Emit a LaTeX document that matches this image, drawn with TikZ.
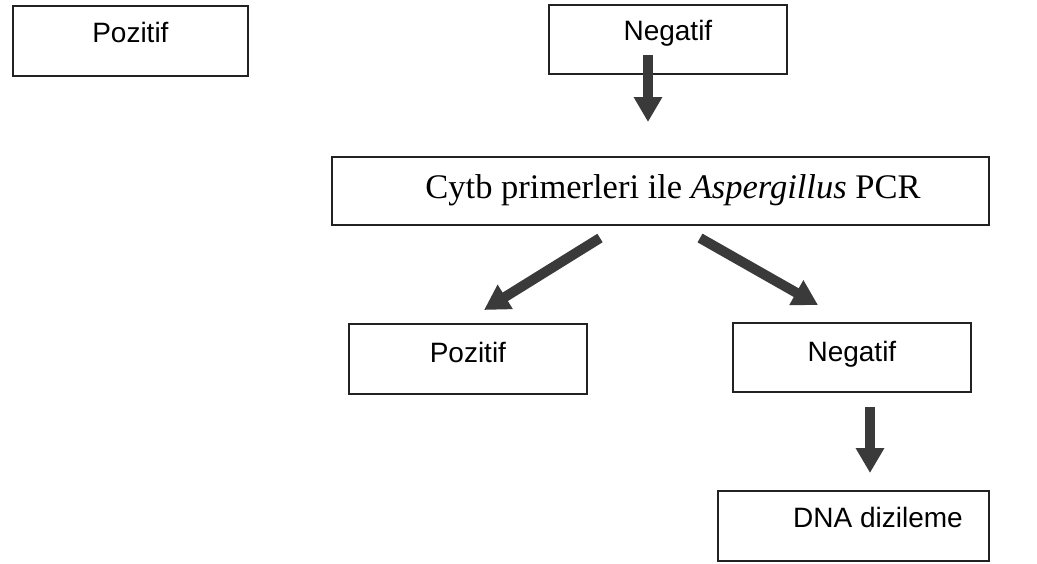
\documentclass[tikz,border=0pt]{standalone}
\usepackage{fontspec}
\setmainfont{Liberation Serif}
\newfontfamily\arialf{Liberation Sans}
\usetikzlibrary{arrows.meta}
\definecolor{boxline}{HTML}{222222}
\definecolor{arrowgray}{HTML}{3A3A3A}
\tikzset{
  box/.style={draw=boxline, line width=1.8pt, inner sep=0pt, anchor=north west, font=\arialf\fontsize{28}{34}\selectfont},
  boxtext/.style={inner sep=0pt, anchor=base, font=\arialf\fontsize{28}{34}\selectfont},
  fatarrow/.style={draw=arrowgray, line width=10pt, -{Triangle[width=27pt,length=25pt]}},
}
\begin{document}
\begin{tikzpicture}[x=1pt,y=-1pt]
\useasboundingbox (0,0) rectangle (1037,563);
\node[box, minimum width=235pt, text height=37pt, text depth=33pt] (pos1) at (12,5) {Pozitif};
\node[box, minimum width=238pt, text height=36pt, text depth=33pt] (neg1) at (548,4) {Negatif};
\node[box, minimum width=657pt, minimum height=68pt] (pcr) at (331,156) {};
\node[boxtext, font=\fontsize{34.5}{40}\selectfont] (pcrt) at (673,198) {Cytb primerleri ile \textit{Aspergillus} PCR};
\node[box, minimum width=238pt, text height=39pt, text depth=31pt] (pos2) at (348,323) {Pozitif};
\node[box, minimum width=238pt, text height=39pt, text depth=30pt] (neg2) at (732,322) {Negatif};
\node[box, minimum width=271pt, minimum height=70pt] (dna) at (717,490) {};
\node[boxtext] (dnat) at (878,527) {DNA dizileme};
\coordinate (a1s) at (648,55);
\coordinate (a1e) at (648,122);
\coordinate (a2s) at (600,238);
\coordinate (a2e) at (484,310);
\coordinate (a3s) at (700,238);
\coordinate (a3e) at (818,305);
\coordinate (a4s) at (870,407);
\coordinate (a4e) at (870,473);
\draw[fatarrow] (a1s) -- (a1e);
\draw[fatarrow] (a2s) -- (a2e);
\draw[fatarrow] (a3s) -- (a3e);
\draw[fatarrow] (a4s) -- (a4e);
\end{tikzpicture}
\end{document}
